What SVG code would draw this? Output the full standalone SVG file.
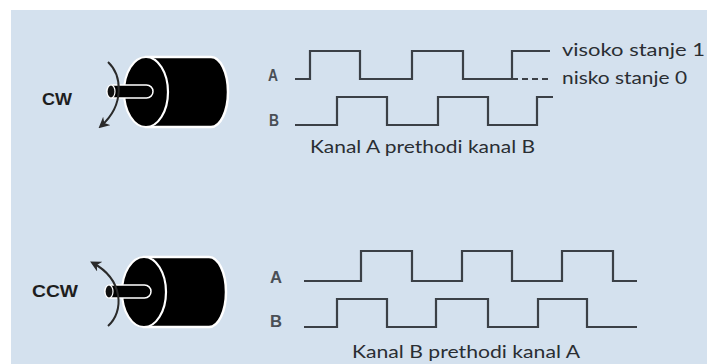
<svg xmlns="http://www.w3.org/2000/svg" width="707" height="364" viewBox="0 0 707 364">
<style>
.wave{fill:none;stroke:#3b4046;stroke-width:2.2;stroke-linejoin:miter}
.lbl{font-family:"Liberation Sans",Arial,sans-serif;font-weight:bold;font-size:17px;fill:#4a4f56}
.rot{font-family:"Liberation Sans",Arial,sans-serif;font-weight:bold;font-size:16.5px;fill:#1e1e1e}
.cap{font-family:Lato,"Open Sans",sans-serif;font-size:17px;fill:#2a2e33}
.arc{fill:none;stroke:#2a2a2a;stroke-width:2}
</style>
<defs>
<marker id="ah" viewBox="0 0 10 10" refX="7" refY="5" markerWidth="11" markerHeight="11" markerUnits="userSpaceOnUse" orient="auto">
<path d="M0,0 L10,5 L0,10 L3,5 Z" fill="#2a2a2a"/>
</marker>
<g id="motor">
<path d="M146,57 H211 A17,35 0 0 1 211,127 H146 Z" fill="#000" stroke="#fff" stroke-width="2.5"/>
<ellipse cx="146" cy="92" rx="22" ry="35" fill="#000" stroke="#fff" stroke-width="2.2"/>
<rect x="107" y="85" width="46" height="13" rx="6.5" fill="#000" stroke="#fff" stroke-width="1.5"/>
<ellipse cx="111" cy="91.5" rx="4" ry="6.5" fill="#111" stroke="#fff" stroke-width="1.2"/>
</g>
</defs>
<rect x="0" y="0" width="707" height="364" fill="#fff"/>
<rect x="11" y="10" width="696" height="354" fill="#d4e1ee"/>

<g id="motor-cw">
<use href="#motor"/>
<path class="arc" d="M108,62 C121,74 126,104 101,126" marker-end="url(#ah)"/>
<text class="rot" x="42" y="105" textLength="30" lengthAdjust="spacingAndGlyphs">CW</text>
</g>

<g id="motor-ccw">
<use href="#motor" transform="translate(-2,200)"/>
<path class="arc" d="M108,326 C124,312 124,280 93,263" marker-end="url(#ah)"/>
<text class="rot" x="32" y="297" textLength="46" lengthAdjust="spacingAndGlyphs">CCW</text>
</g>

<g id="signals-cw">
<text class="lbl" x="268" y="81" textLength="10" lengthAdjust="spacingAndGlyphs">A</text>
<text class="lbl" x="269" y="126" textLength="10" lengthAdjust="spacingAndGlyphs">B</text>
<path class="wave" d="M295,79 H310 V51 H360 V79 H412 V51 H463 V79 H512 V51 H550"/>
<path class="wave" d="M512,79 H550" stroke-dasharray="6,4" stroke-width="1.6"/>
<path class="wave" d="M295,125 H337 V97 H387 V125 H438 V97 H488 V125 H537 V97 H553"/>
<text class="cap" x="562" y="56" textLength="143" lengthAdjust="spacingAndGlyphs">visoko stanje 1</text>
<text class="cap" x="562" y="84" textLength="125" lengthAdjust="spacingAndGlyphs">nisko stanje 0</text>
<text class="cap" x="310" y="153" textLength="225" lengthAdjust="spacingAndGlyphs">Kanal A prethodi kanal B</text>
</g>

<g id="signals-ccw">
<text class="lbl" x="270" y="283" textLength="12" lengthAdjust="spacingAndGlyphs">A</text>
<text class="lbl" x="270" y="327" textLength="12" lengthAdjust="spacingAndGlyphs">B</text>
<path class="wave" d="M304,281 H361 V251 H412 V281 H462 V251 H512 V281 H562 V251 H613 V281 H637"/>
<path class="wave" d="M304,327 H337 V299 H387 V327 H436 V299 H488 V327 H538 V299 H587 V327 H637"/>
<text class="cap" x="352" y="358" textLength="228" lengthAdjust="spacingAndGlyphs">Kanal B prethodi kanal A</text>
</g>
</svg>
